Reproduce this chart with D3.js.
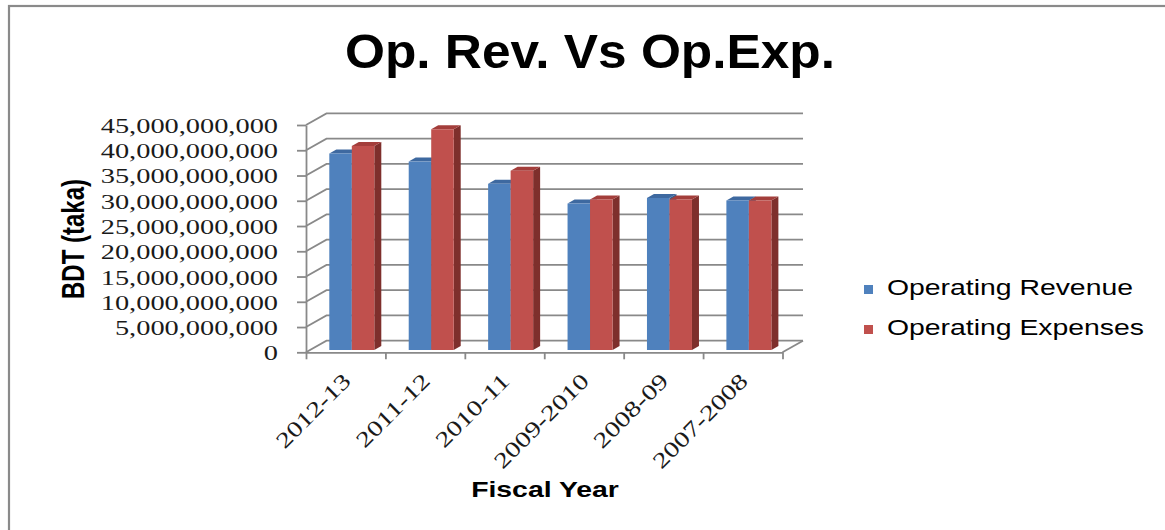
<!DOCTYPE html>
<html>
<head>
<meta charset="utf-8">
<script src="https://cdn.jsdelivr.net/npm/d3@7"></script>
<style>
  html, body { margin: 0; padding: 0; background: #fff; }
  svg { display: block; }
</style>
</head>
<body>
<svg id="chart" width="1165" height="530"></svg>
<script>
// Fiscal years and operating figures in taka
const categories = ["2012-13", "2011-12", "2010-11", "2009-2010", "2008-09", "2007-2008"];
const operatingRevenue = [38.9e9, 37.3e9, 32.9e9, 29.0e9, 30.1e9, 29.6e9];
const operatingExpenses = [40.4e9, 43.7e9, 35.5e9, 29.8e9, 29.8e9, 29.6e9];
const seriesNames = ["Operating Revenue", "Operating Expenses"];
const yTickValues = [0, 5e9, 10e9, 15e9, 20e9, 25e9, 30e9, 35e9, 40e9, 45e9];

const series = [operatingRevenue, operatingExpenses];
const faceColors = [
  { front: "#4f81bd", side: "#385d8a", top: "#3e69a0" },
  { front: "#c0504d", side: "#7e2f2c", top: "#a33e3b" }
];

const svg = d3.select("#chart");
const SX = 1.29;              // horizontal text stretch
const gridColor = "#898989";

// outer frame
svg.append("rect")
  .attr("x", 9).attr("y", 6).attr("width", 1300).attr("height", 700)
  .attr("fill", "#fff").attr("stroke", "#8a8a8a").attr("stroke-width", 2.2);

// plot geometry
const x0 = 306, x1 = 782.5;
const yBase = 352.3, yTop = 125;
const DX = 20.5, DY = -11.6;      // wall depth
const barDX = 7, barDY = -4;      // bar depth
const barBase = 350;

const x = d3.scaleBand().domain(categories).range([x0, x1]).paddingInner(0).paddingOuter(0);
const xEdge = d3.scaleLinear().domain([0, categories.length]).range([x0, x1]);
const yFront = d3.scaleLinear().domain([0, 45e9]).range([yBase, yTop]);
const yBar = d3.scaleLinear().domain([0, 45e9]).range([barBase, barBase - (yBase - yTop)]);
const xSub = d3.scaleBand().domain([0, 1]).range([0, 45]);

// back wall gridlines + side wall diagonals
const grid = svg.append("g").attr("fill", "none").attr("stroke", gridColor).attr("stroke-width", 1.8);
yTickValues.forEach(v => {
  const y = yFront(v);
  grid.append("path")
    .attr("d", `M${x0},${y} L${x0 + DX},${y + DY} L${x1 + DX},${y + DY}`);
});
// floor right edge
grid.append("path").attr("d", `M${x1},${yBase} L${x1 + DX},${yBase + DY}`);

// vertical axis with tick labels
const yAxis = svg.append("g")
  .attr("transform", `translate(${x0},0)`)
  .call(d3.axisLeft(yFront).tickValues(yTickValues).tickFormat(d3.format(",")).tickSize(9).tickSizeOuter(0));
yAxis.select(".domain").attr("stroke", gridColor).attr("stroke-width", 1.8);
yAxis.selectAll(".tick line").attr("stroke", gridColor).attr("stroke-width", 1.8);
yAxis.selectAll(".tick text")
  .attr("x", -28 / SX)
  .attr("dy", "0.34em")
  .attr("transform", `scale(${SX},1)`)
  .attr("fill", "#1a1a1a")
  .style("font-family", "'Liberation Serif', 'DejaVu Serif', serif")
  .style("font-size", "22px");

// floor front edge with category ticks
const xAxis = svg.append("g")
  .attr("transform", `translate(0,${yBase})`)
  .call(d3.axisBottom(xEdge).tickValues(d3.range(0, categories.length + 1)).tickFormat("").tickSize(7).tickSizeOuter(0));
xAxis.select(".domain").attr("stroke", gridColor).attr("stroke-width", 1.8);
xAxis.selectAll(".tick line").attr("stroke", gridColor).attr("stroke-width", 1.8);

// 3D bars
const bars = svg.append("g");
categories.forEach((cat, ci) => {
  series.forEach((vals, si) => {
    const v = vals[ci];
    const bx = x(cat) + 23.3 + xSub(si);
    const bw = xSub.bandwidth();
    const top = yBar(v);
    const c = faceColors[si];
    const g = bars.append("g");
    g.append("path")
      .attr("d", `M${bx + bw},${top} L${bx + bw + barDX},${top + barDY} L${bx + bw + barDX},${barBase + barDY} L${bx + bw},${barBase} Z`)
      .attr("fill", c.side);
    g.append("path")
      .attr("d", `M${bx},${top} L${bx + barDX},${top + barDY} L${bx + bw + barDX},${top + barDY} L${bx + bw},${top} Z`)
      .attr("fill", c.top);
    g.append("rect")
      .attr("x", bx).attr("y", top).attr("width", bw).attr("height", barBase - top)
      .attr("fill", c.front);
  });
});

// category labels
svg.append("g").selectAll("text")
  .data(categories)
  .join("text")
  .attr("transform", d => `translate(${x(d) + x.bandwidth() / 2 + 1},377) rotate(-45) scale(1.3,1)`)
  .attr("text-anchor", "end")
  .attr("dy", "0.34em")
  .attr("fill", "#1a1a1a")
  .style("font-family", "'Liberation Serif', 'DejaVu Serif', serif")
  .style("font-size", "22px")
  .text(d => d);

// title
svg.append("text")
  .attr("x", 590).attr("y", 68)
  .attr("text-anchor", "middle")
  .attr("textLength", 490).attr("lengthAdjust", "spacingAndGlyphs")
  .style("font-family", "'Liberation Sans', Arial, sans-serif")
  .style("font-weight", "bold").style("font-size", "48px")
  .attr("fill", "#000")
  .text("Op. Rev. Vs Op.Exp.");

// axis titles
svg.append("text")
  .attr("transform", `translate(84,239) rotate(-90) scale(1,${SX})`)
  .attr("text-anchor", "middle")
  .style("font-family", "'Liberation Sans', Arial, sans-serif")
  .style("font-weight", "bold").style("font-size", "24px")
  .attr("fill", "#000")
  .text("BDT (taka)");

svg.append("text")
  .attr("transform", `translate(545,497) scale(${SX},1)`)
  .attr("text-anchor", "middle")
  .style("font-family", "'Liberation Sans', Arial, sans-serif")
  .style("font-weight", "bold").style("font-size", "22px")
  .attr("fill", "#000")
  .text("Fiscal Year");

// legend
const legend = svg.append("g");
seriesNames.forEach((name, i) => {
  const ly = 295 + i * 40;
  legend.append("rect")
    .attr("x", 864).attr("y", ly - 10).attr("width", 9).attr("height", 9)
    .attr("fill", faceColors[i].front);
  legend.append("text")
    .attr("transform", `translate(887,${ly}) scale(${SX},1)`)
    .style("font-family", "'Liberation Sans', Arial, sans-serif")
    .style("font-size", "22px")
    .attr("fill", "#000")
    .text(name);
});
</script>
</body>
</html>
